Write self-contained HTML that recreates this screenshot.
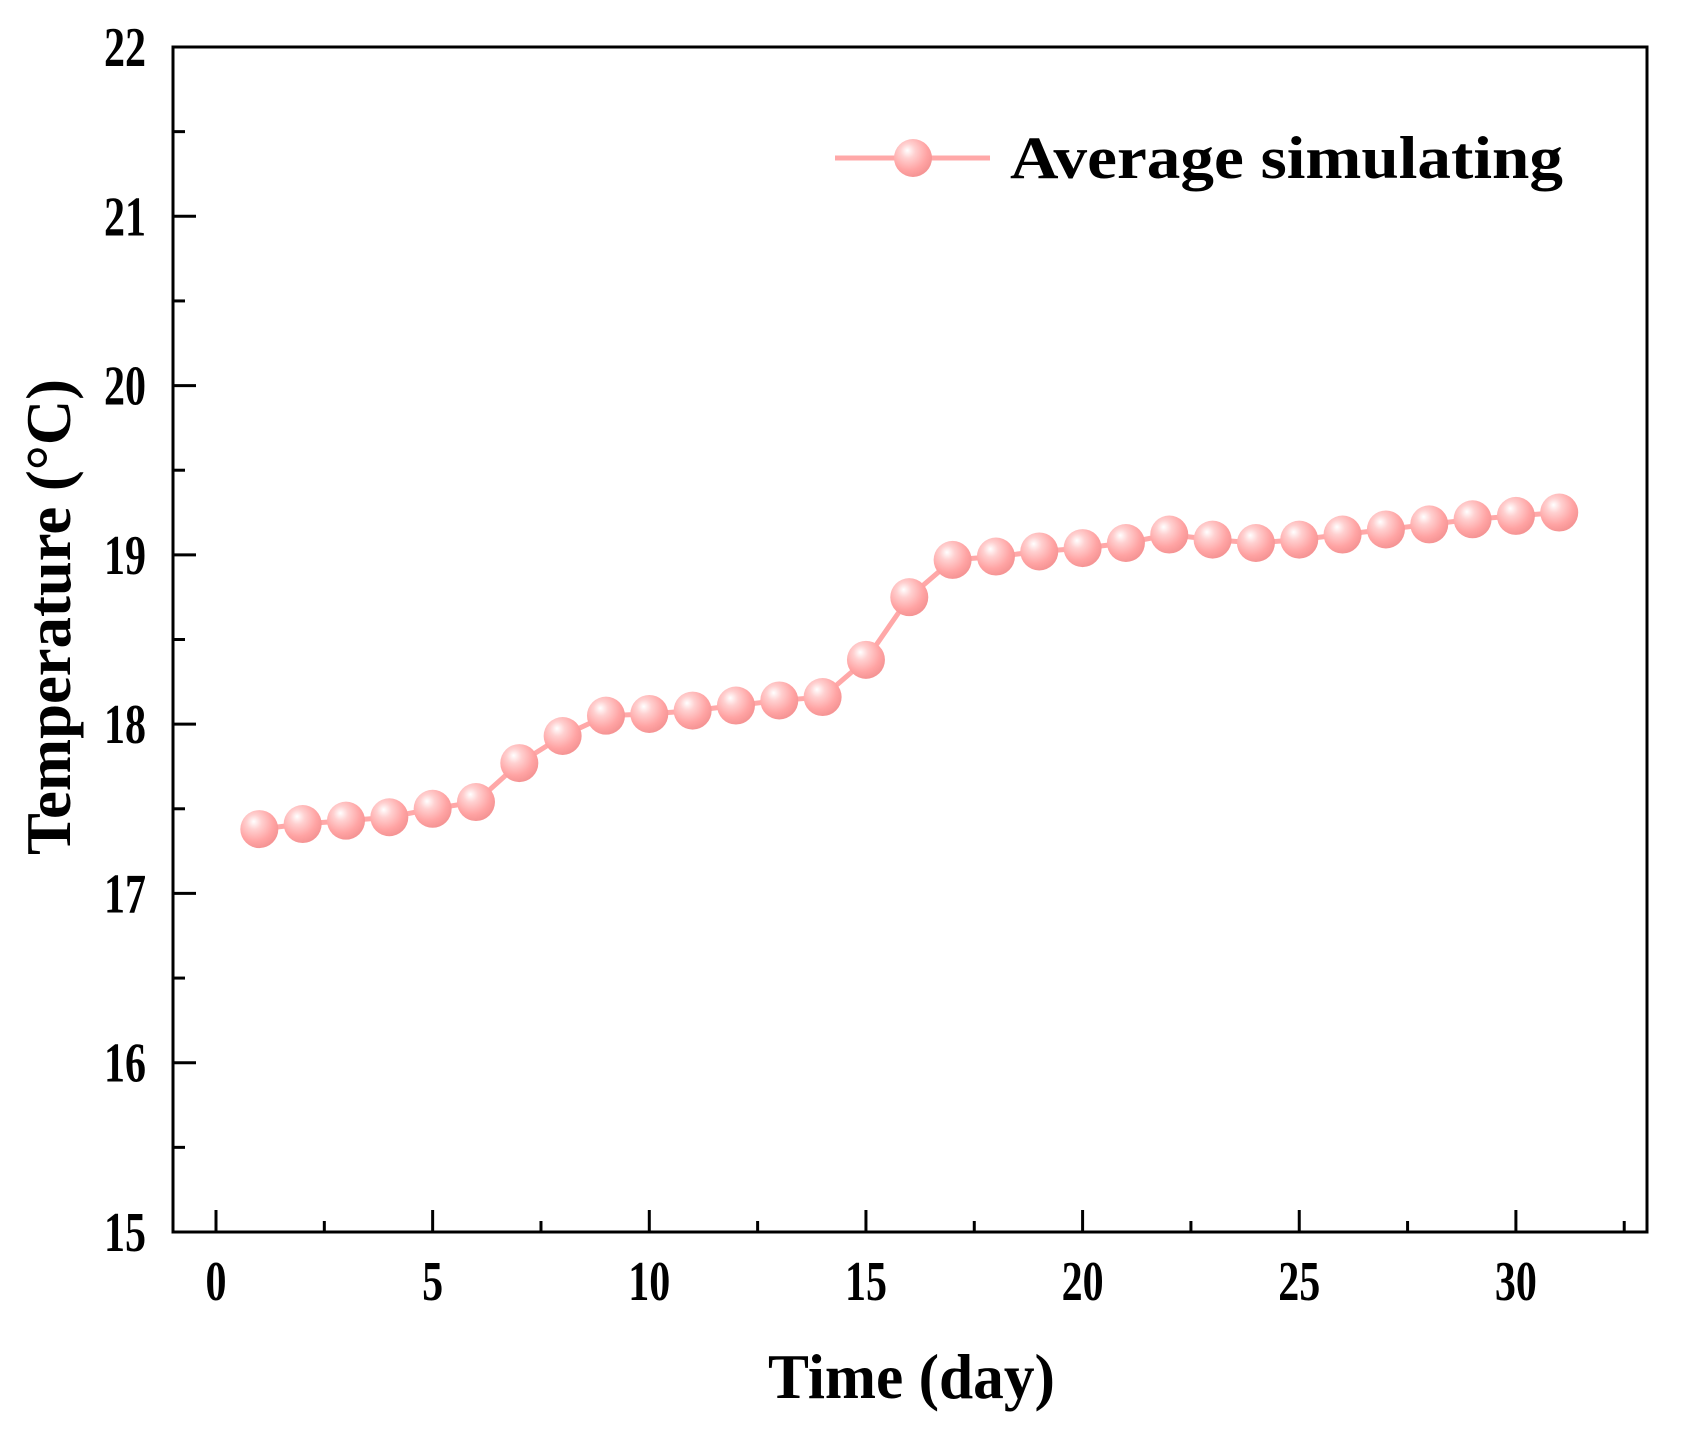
<!DOCTYPE html>
<html><head><meta charset="utf-8"><style>
html,body{margin:0;padding:0;background:#fff;}
svg text{font-family:"Liberation Serif",serif;font-weight:bold;fill:#000;}
</style></head><body>
<svg id="chart" width="1695" height="1437" viewBox="0 0 1695 1437" xmlns="http://www.w3.org/2000/svg">
<defs>
<radialGradient id="ball" cx="0.4" cy="0.35" r="0.65" fx="0.35" fy="0.3">
<stop offset="0" stop-color="#ffffff"/>
<stop offset="0.3" stop-color="#ffd0d0"/>
<stop offset="0.75" stop-color="#ffa3a3"/>
<stop offset="1" stop-color="#f59494"/>
</radialGradient>
</defs>
<g id="plot"></g>
</svg>
<script>
const days = [1,2,3,4,5,6,7,8,9,10,11,12,13,14,15,16,17,18,19,20,21,22,23,24,25,26,27,28,29,30,31];
const temps = [17.38,17.41,17.43,17.45,17.50,17.54,17.77,17.93,18.05,18.06,18.08,18.11,18.14,18.16,18.38,18.75,18.97,18.99,19.02,19.04,19.07,19.12,19.09,19.07,19.09,19.12,19.15,19.18,19.21,19.23,19.25];
const xTicks = [0,5,10,15,20,25,30];
const yTicks = [15,16,17,18,19,20,21,22];

const L=173,R=1647,T=47,B=1232;
const yMin=15,yMax=22;
const X0=216,DX=43.33;
function xs(v){return X0+v*DX;}
function ys(v){return B-(v-yMin)*(B-T)/(yMax-yMin);}
const NS='http://www.w3.org/2000/svg';
const g=document.getElementById('plot');
function mk(tag,attrs,parent){const e=document.createElementNS(NS,tag);for(const k in attrs)e.setAttribute(k,attrs[k]);(parent||g).appendChild(e);return e;}

let d='';
days.forEach((v,i)=>{d+=(i?'L':'M')+xs(v)+' '+ys(temps[i]);});
const line=mk('path',{d:d,fill:'none',stroke:'#ffa8a8','stroke-width':5});


days.forEach((v,i)=>{
  const c=mk('circle',{cx:xs(v),cy:ys(temps[i]),r:19,fill:'url(#ball)'});
  
  
});

const frame=mk('rect',{x:L,y:T,width:R-L,height:B-T,fill:'none',stroke:'#000','stroke-width':3});



yTicks.forEach(v=>{
  const y=ys(v);
  const t=mk('line',{x1:L,x2:L+23,y1:y,y2:y,stroke:'#000','stroke-width':3});
  
  
  if(v<22){const m=mk('line',{x1:L,x2:L+12,y1:ys(v+0.5),y2:ys(v+0.5),stroke:'#000','stroke-width':3});
  
  }
  const s=String(v);
  const lb=mk('text',{x:146-21*s.length,y:y+19,'font-size':56,textLength:21*s.length,lengthAdjust:'spacingAndGlyphs'});
  lb.textContent=s;
  
  
});
xTicks.forEach(v=>{
  const x=xs(v);
  const t=mk('line',{x1:x,x2:x,y1:B,y2:B-22,stroke:'#000','stroke-width':3});
  
  
  const m=mk('line',{x1:xs(v+2.5),x2:xs(v+2.5),y1:B,y2:B-11,stroke:'#000','stroke-width':3});
  
  
  const s=String(v);
  const lb=mk('text',{x:x-10.5*s.length,y:1300,'font-size':56,textLength:21*s.length,lengthAdjust:'spacingAndGlyphs'});
  lb.textContent=s;
  
  
});

const xt=mk('text',{x:768,y:1398,'font-size':64,textLength:287,lengthAdjust:'spacingAndGlyphs'});
xt.textContent='Time (day)';


const yt=mk('text',{x:-238,y:0,'font-size':64,textLength:476,lengthAdjust:'spacingAndGlyphs',transform:'translate(70,617) rotate(-90)'});
yt.textContent='Temperature (°C)';



const lg=mk('g',{});


mk('line',{x1:835,x2:990,y1:158,y2:158,stroke:'#ffa8a8','stroke-width':5},lg);
mk('circle',{cx:913,cy:158,r:19,fill:'url(#ball)'},lg);
const lt=mk('text',{x:1010,y:178,'font-size':60,textLength:553,lengthAdjust:'spacingAndGlyphs'},lg);
lt.textContent='Average simulating';


</script>
</body></html>
